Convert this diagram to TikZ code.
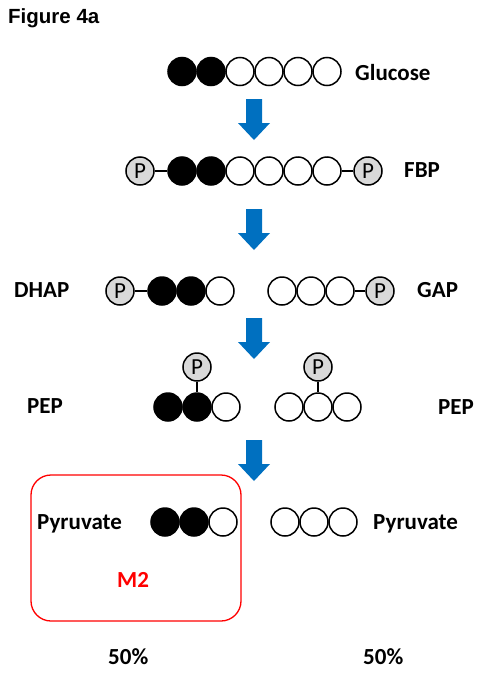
\documentclass[tikz,border=0pt]{standalone}
\usepackage{fontspec}
\setmainfont{Carlito}
\newfontfamily\arialfont{Liberation Sans}
\definecolor{arrowblue}{RGB}{0,112,192}
\definecolor{pgray}{RGB}{217,217,217}
\definecolor{boxred}{RGB}{255,0,0}
\begin{document}
\begin{tikzpicture}[x=1pt,y=-1pt,
  carbon/.style={circle,draw=black,line width=1.5pt,minimum size=28pt,inner sep=0pt},
  lab/.style={carbon,fill=black},
  unl/.style={carbon,fill=white},
  phos/.style={carbon,fill=pgray,font=\fontsize{23}{23}\selectfont},
  bond/.style={line width=1.5pt},
  lbl/.style={anchor=base west,inner sep=0pt,font=\fontsize{23}{23}\selectfont\bfseries},
  flow/.style={fill=arrowblue}
]
\useasboundingbox (0,0) rectangle (483,675);

% title
\node[anchor=base west,inner sep=0pt,font=\fontsize{20.5}{20.5}\selectfont\arialfont\bfseries] (title) at (8,23) {Figure 4a};

% flow arrows
\foreach \t in {99,209,318,440}{
  \fill[flow] (246,\t) -- (262,\t) -- (262,{\t+24}) -- (270,{\t+24}) -- (254,{\t+41}) -- (238,{\t+24}) -- (246,{\t+24}) -- cycle;
}

% Glucose
\node[lab] (g1) at (182,71.5) {};
\node[lab] (g2) at (211,71.5) {};
\node[unl] (g3) at (240,71.5) {};
\node[unl] (g4) at (269,71.5) {};
\node[unl] (g5) at (298,71.5) {};
\node[unl] (g6) at (327,71.5) {};
\node[lbl] (glc) at (355,80) {Glucose};

% FBP
\node[phos] (fp1) at (140,171) {P};
\node[lab] (f1) at (182,171) {};
\node[lab] (f2) at (211,171) {};
\node[unl] (f3) at (240,171) {};
\node[unl] (f4) at (269,171) {};
\node[unl] (f5) at (298,171) {};
\node[unl] (f6) at (327,171) {};
\node[phos] (fp2) at (368,171) {P};
\draw[bond] (fp1) -- (f1);
\draw[bond] (f6) -- (fp2);
\node[lbl] (fbp) at (404,177) {FBP};

% DHAP / GAP
\node[phos] (dp) at (120,291) {P};
\node[lab] (d1) at (162,291) {};
\node[lab] (d2) at (191,291) {};
\node[unl] (d3) at (220,291) {};
\draw[bond] (dp) -- (d1);
\node[unl] (a1) at (282,291) {};
\node[unl] (a2) at (311,291) {};
\node[unl] (a3) at (340,291) {};
\node[phos] (ap) at (380,291) {P};
\draw[bond] (a3) -- (ap);
\node[lbl] (dhap) at (14,297) {DHAP};
\node[lbl] (gap) at (417,297) {GAP};

% PEP
\node[lab] (e1) at (168,407) {};
\node[lab] (e2) at (197,407) {};
\node[unl] (e3) at (226,407) {};
\node[phos] (ep) at (197,367) {P};
\draw[bond] (ep) -- (e2);
\node[unl] (h1) at (289,407) {};
\node[unl] (h2) at (318,407) {};
\node[unl] (h3) at (347,407) {};
\node[phos] (hp) at (318,367) {P};
\draw[bond] (hp) -- (h2);
\node[lbl] (pepl) at (27,413) {PEP};
\node[lbl] (pepr) at (438,414) {PEP};

% Pyruvate
\draw[boxred,line width=1.3pt,rounded corners=20pt] (31,475) rectangle (241,621);
\node[lab] (y1) at (165,522) {};
\node[lab] (y2) at (194,522) {};
\node[unl] (y3) at (223,522) {};
\node[unl] (z1) at (285,522) {};
\node[unl] (z2) at (314,522) {};
\node[unl] (z3) at (343,522) {};
\node[lbl] (pyrl) at (37,529) {Pyruvate};
\node[lbl] (pyrr) at (373,529) {Pyruvate};
\node[lbl,text=boxred] (m2) at (117,587) {M2};
\node[lbl] (pc1) at (108,664) {50\%};
\node[lbl] (pc2) at (363,664) {50\%};
\end{tikzpicture}
\end{document}
